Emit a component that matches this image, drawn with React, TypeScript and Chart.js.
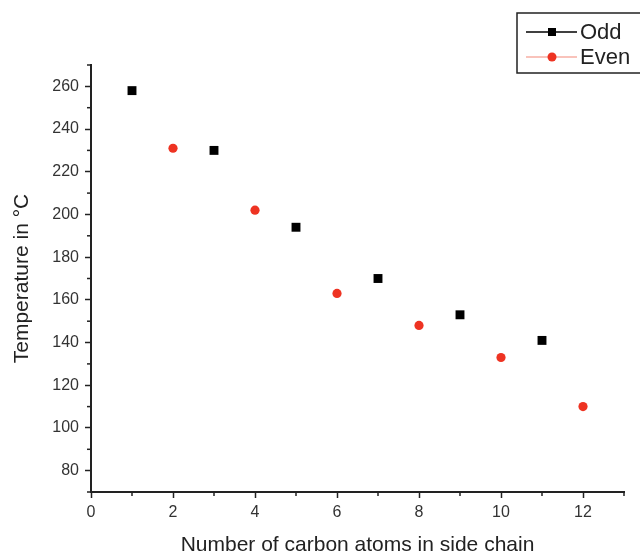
import React, { useEffect, useRef } from "react";
import { Chart, registerables } from "chart.js";

Chart.register(...registerables);

const oddCarbons = [1, 3, 5, 7, 9, 11];
const oddTemps = [258, 230, 194, 170, 153, 141];
const evenCarbons = [2, 4, 6, 8, 10, 12];
const evenTemps = [231, 202, 163, 148, 133, 110];

const xMin = 0;
const xMax = 13;
const yMin = 70;
const yMax = 270;

const xTitle = "Number of carbon atoms in side chain";
const yTitle = "Temperature in \u00B0C";
const legendLabels = ["Odd", "Even"];

const FONT = "'Liberation Sans', Arial, Helvetica, sans-serif";
const RED = "#ee3322";
const INK = "#222";

const minorTicks = {
  id: "minorTicks",
  afterDraw(chart: any) {
    const { ctx, chartArea, scales } = chart;
    ctx.save();
    ctx.strokeStyle = INK;
    ctx.lineWidth = 1.5;
    for (let v = xMin; v <= xMax; v++) {
      if (v % 2 === 0) continue;
      const px = scales.x.getPixelForValue(v);
      ctx.beginPath();
      ctx.moveTo(px, chartArea.bottom);
      ctx.lineTo(px, chartArea.bottom + 4);
      ctx.stroke();
    }
    for (let v = yMin; v <= yMax; v += 10) {
      if (v % 20 === 0) continue;
      const py = scales.y.getPixelForValue(v);
      ctx.beginPath();
      ctx.moveTo(chartArea.left, py);
      ctx.lineTo(chartArea.left - 4, py);
      ctx.stroke();
    }
    ctx.restore();
  },
};

const boxLegend = {
  id: "boxLegend",
  afterDraw(chart: any) {
    const { ctx } = chart;
    ctx.save();
    ctx.strokeStyle = INK;
    ctx.lineWidth = 1.5;
    ctx.strokeRect(517, 13, 140, 60);
    const rows = [
      { label: legendLabels[0], y: 32, color: "#000", line: "#000", square: true },
      { label: legendLabels[1], y: 57, color: RED, line: "#f38878", square: false },
    ];
    ctx.font = `22px ${FONT}`;
    ctx.textBaseline = "middle";
    ctx.textAlign = "left";
    for (const r of rows) {
      ctx.strokeStyle = r.line;
      ctx.lineWidth = r.square ? 1.5 : 1.2;
      ctx.beginPath();
      ctx.moveTo(526, r.y);
      ctx.lineTo(577, r.y);
      ctx.stroke();
      ctx.fillStyle = r.color;
      if (r.square) {
        ctx.fillRect(548, r.y - 4, 8, 8);
      } else {
        ctx.beginPath();
        ctx.arc(552, r.y, 4.5, 0, Math.PI * 2);
        ctx.fill();
      }
      ctx.fillStyle = INK;
      ctx.fillText(r.label, 580, r.y + 1);
    }
    ctx.restore();
  },
};

export default function App() {
  const ref = useRef<HTMLCanvasElement | null>(null);
  useEffect(() => {
    if (!ref.current) return;
    const chart = new Chart(ref.current, {
      type: "scatter",
      data: {
        datasets: [
          {
            label: legendLabels[0],
            data: oddCarbons.map((x, i) => ({ x, y: oddTemps[i] })),
            pointStyle: "rect",
            pointRadius: 6.3,
            backgroundColor: "#000",
            borderColor: "#000",
            borderWidth: 0,
            showLine: false,
          },
          {
            label: legendLabels[1],
            data: evenCarbons.map((x, i) => ({ x, y: evenTemps[i] })),
            pointStyle: "circle",
            pointRadius: 4.6,
            backgroundColor: RED,
            borderColor: RED,
            borderWidth: 0,
            showLine: false,
          },
        ],
      },
      options: {
        animation: false,
        responsive: false,
        maintainAspectRatio: false,
        layout: { padding: { top: 65, right: 16, left: 0, bottom: 0 } },
        plugins: { legend: { display: false }, tooltip: { enabled: false } },
        scales: {
          x: {
            type: "linear",
            min: xMin,
            max: xMax,
            afterFit(scale: any) {
              scale.height = 64;
            },
            ticks: {
              stepSize: 1,
              autoSkip: false,
              maxRotation: 0,
              padding: 5,
              color: "#333",
              font: { family: FONT, size: 16 },
              callback: (v: any) => (Number(v) % 2 === 0 ? String(v) : ""),
            },
            grid: {
              drawOnChartArea: false,
              tickLength: 6,
              tickWidth: 1.5,
              tickColor: (c: any) => (c.tick && c.tick.value % 2 === 0 ? INK : "rgba(0,0,0,0)"),
            },
            border: { display: true, color: INK, width: 2 },
            title: {
              display: true,
              text: xTitle,
              color: INK,
              font: { family: FONT, size: 21, lineHeight: 1 },
              padding: { top: 0, bottom: 0 },
            },
          },
          y: {
            type: "linear",
            min: yMin,
            max: yMax,
            afterFit(scale: any) {
              scale.width = 91;
            },
            ticks: {
              stepSize: 10,
              autoSkip: false,
              padding: 6,
              color: "#333",
              font: { family: FONT, size: 16 },
              callback: (v: any) => (Number(v) % 20 === 0 ? String(v) : ""),
            },
            grid: {
              drawOnChartArea: false,
              tickLength: 6,
              tickWidth: 1.5,
              tickColor: (c: any) => (c.tick && c.tick.value % 20 === 0 ? INK : "rgba(0,0,0,0)"),
            },
            border: { display: true, color: INK, width: 2 },
            title: {
              display: true,
              text: yTitle,
              color: INK,
              font: { family: FONT, size: 21, lineHeight: 1 },
              padding: { top: 12, bottom: 0 },
            },
          },
        },
      },
      plugins: [minorTicks, boxLegend],
    });
    return () => chart.destroy();
  }, []);
  return (
    <div style={{ position: "fixed", left: 0, top: 0, width: 640, height: 556, background: "#fff" }}>
      <canvas ref={ref} width={640} height={556} style={{ width: 640, height: 556 }} />
    </div>
  );
}
